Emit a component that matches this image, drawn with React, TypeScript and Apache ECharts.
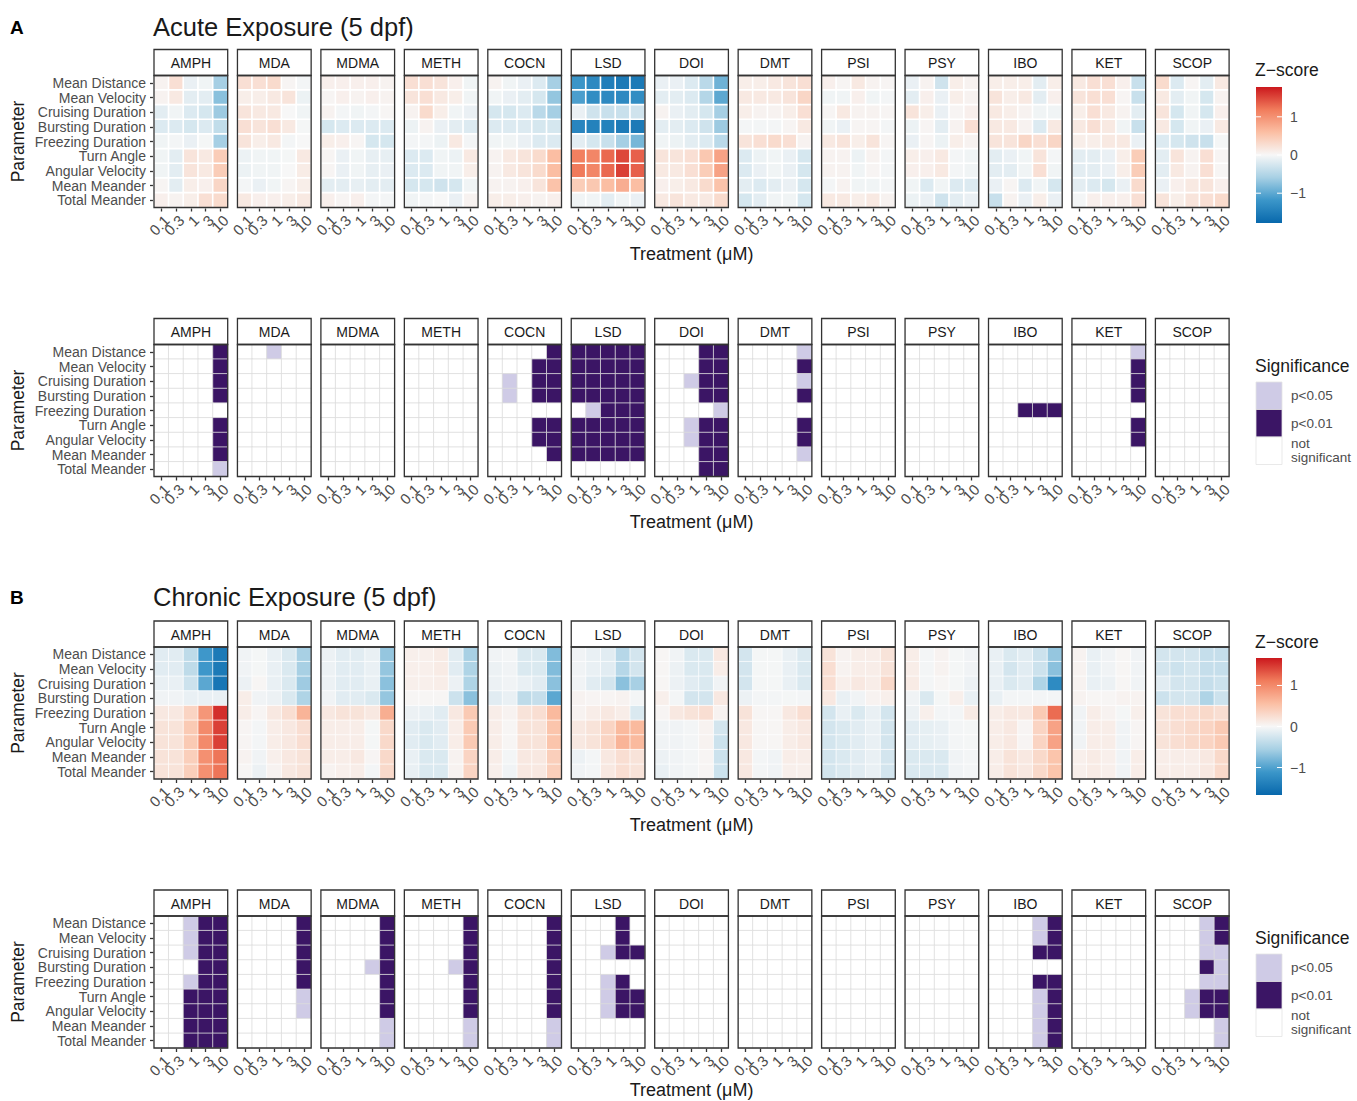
import React, { useEffect, useRef } from "react";
import * as echarts from "echarts";

// ---------------- categories ----------------
const DRUGS = ["AMPH", "MDA", "MDMA", "METH", "COCN", "LSD", "DOI", "DMT", "PSI", "PSY", "IBO", "KET", "SCOP"];
const CONCENTRATIONS = ["0.1", "0.3", "1", "3", "10"];
const PARAMETERS = [
  "Mean Distance", "Mean Velocity", "Cruising Duration", "Bursting Duration", "Freezing Duration",
  "Turn Angle", "Angular Velocity", "Mean Meander", "Total Meander",
];
const ZSCORE_TICKS = [1, 0, -1];
const SIG_LABELS = ["p<0.05", "p<0.01", "not\nsignificant"];
const SIG_LEGEND_LEVELS = [1, 2, 0];

// ---------------- acute z-scores (rows = parameters, cols = concentrations) ----------------
const acuteZ_AMPH = [[0.05, 0.25, -0.1, -0.05, -0.6], [0.05, 0.15, -0.15, -0.15, -0.75], [-0.15, -0.05, -0.2, -0.25, -0.65], [-0.2, -0.2, -0.25, -0.2, -0.4], [-0.05, -0.03, -0.1, -0.02, -0.6], [-0.05, -0.15, 0.2, 0.15, 0.45], [-0.05, -0.15, 0.2, 0.15, 0.45], [0.03, -0.15, 0.1, 0.08, 0.35], [0.08, 0.05, 0.1, 0.25, 0.3]];
const acuteZ_MDA = [[0.25, 0.25, 0.3, 0.03, -0.03], [0.1, 0.1, 0.15, 0.2, -0.08], [0.2, 0.15, 0.15, 0.0, -0.05], [0.25, 0.2, 0.25, 0.15, -0.02], [0.2, 0.1, 0.15, -0.03, 0.0], [-0.08, -0.05, -0.05, -0.02, 0.15], [-0.08, -0.05, -0.05, 0.0, 0.12], [-0.03, -0.1, -0.05, 0.03, 0.1], [0.15, 0.08, 0.08, 0.1, 0.15]];
const acuteZ_MDMA = [[0.08, 0.08, 0.08, 0.08, 0.05], [0.03, 0.08, 0.05, 0.08, 0.05], [0.05, -0.03, -0.05, -0.03, 0.02], [-0.25, -0.2, -0.2, -0.2, -0.2], [0.1, 0.08, 0.03, -0.25, -0.25], [0.03, -0.1, -0.05, -0.12, -0.12], [0.03, -0.1, -0.05, -0.12, -0.1], [-0.15, -0.15, -0.12, -0.15, -0.15], [0.08, 0.03, 0.08, -0.03, -0.03]];
const acuteZ_METH = [[0.25, 0.25, 0.2, 0.08, -0.05], [0.2, 0.25, 0.15, 0.1, -0.05], [0.05, 0.3, 0.1, -0.05, -0.1], [-0.08, 0.05, -0.1, -0.15, -0.2], [-0.03, -0.03, -0.08, 0.15, -0.03], [-0.2, -0.2, -0.05, -0.08, 0.15], [-0.2, -0.2, -0.05, -0.05, 0.1], [-0.25, -0.25, -0.3, -0.25, -0.05], [-0.05, -0.03, 0.0, -0.1, 0.05]];
const acuteZ_COCN = [[0.05, -0.05, -0.1, -0.2, -0.6], [-0.05, -0.1, -0.15, -0.25, -0.7], [-0.25, -0.25, -0.2, -0.45, -0.6], [-0.2, -0.2, -0.2, -0.25, -0.25], [-0.05, -0.05, -0.1, -0.2, -0.2], [0.05, 0.15, 0.2, 0.3, 0.6], [0.05, 0.15, 0.2, 0.3, 0.6], [0.05, 0.05, 0.08, 0.2, 0.55], [0.1, 0.1, 0.08, 0.05, 0.08]];
const acuteZ_LSD = [[-1.2, -1.35, -1.5, -1.55, -1.55], [-1.1, -1.3, -1.35, -1.35, -1.3], [-0.1, -0.3, -0.35, -0.35, -0.3], [-1.4, -1.45, -1.45, -1.55, -1.55], [-0.15, -0.25, -0.35, -0.6, -0.85], [1.15, 1.1, 1.3, 1.5, 1.35], [1.2, 1.1, 1.3, 1.55, 1.35], [0.45, 0.5, 0.6, 0.75, 0.6], [-0.05, -0.05, -0.15, -0.05, -0.1]];
const acuteZ_DOI = [[-0.1, -0.1, -0.2, -0.45, -0.9], [-0.15, -0.15, -0.2, -0.5, -1.0], [0.05, -0.1, -0.15, -0.25, -0.6], [-0.15, -0.15, -0.2, -0.3, -0.65], [-0.05, -0.08, -0.15, -0.2, -0.45], [0.2, 0.2, 0.25, 0.5, 0.85], [0.15, 0.15, 0.25, 0.45, 0.85], [0.08, 0.1, 0.15, 0.3, 0.55], [0.15, 0.2, 0.15, 0.15, 0.3]];
const acuteZ_DMT = [[0.1, 0.1, 0.15, 0.2, 0.25], [0.15, 0.15, 0.15, 0.2, 0.35], [0.1, 0.05, 0.05, 0.1, 0.25], [-0.03, -0.03, -0.03, 0.03, 0.15], [0.2, 0.25, 0.3, 0.25, 0.05], [-0.2, -0.08, -0.05, -0.1, -0.25], [-0.2, -0.1, -0.05, -0.1, -0.25], [-0.15, -0.2, -0.15, -0.1, -0.25], [-0.25, -0.15, -0.05, -0.05, -0.25]];
const acuteZ_PSI = [[0.08, 0.03, 0.15, 0.05, 0.03], [-0.05, -0.05, 0.08, -0.05, -0.03], [0.03, 0.15, 0.05, 0.05, 0.03], [-0.05, -0.1, 0.03, 0.03, -0.03], [0.15, 0.2, 0.1, 0.2, 0.03], [0.05, 0.05, -0.08, 0.05, -0.03], [0.05, 0.05, -0.05, 0.03, -0.03], [-0.03, 0.05, -0.05, -0.05, -0.03], [0.15, 0.15, 0.1, 0.15, 0.05]];
const acuteZ_PSY = [[-0.1, 0.05, -0.3, 0.1, 0.05], [-0.15, 0.08, -0.1, 0.1, 0.05], [0.2, 0.1, -0.1, 0.03, 0.08], [-0.08, 0.03, -0.15, 0.05, 0.25], [-0.1, 0.03, -0.08, 0.1, 0.05], [0.1, 0.08, 0.15, -0.03, -0.05], [0.08, 0.08, 0.15, -0.03, -0.05], [-0.05, -0.2, -0.05, -0.2, -0.2], [-0.08, -0.1, -0.3, -0.15, -0.1]];
const acuteZ_IBO = [[0.1, 0.1, 0.1, -0.15, 0.1], [0.2, 0.1, 0.15, -0.15, 0.08], [0.15, 0.1, 0.05, -0.05, -0.05], [0.15, 0.15, 0.05, -0.2, 0.15], [0.2, 0.2, 0.35, 0.25, 0.35], [-0.15, -0.1, -0.05, 0.2, -0.03], [-0.15, -0.15, -0.05, 0.25, -0.05], [-0.1, 0.03, -0.2, -0.05, -0.25], [-0.35, 0.05, -0.1, 0.1, -0.1]];
const acuteZ_KET = [[0.15, 0.25, 0.25, 0.08, -0.35], [0.2, 0.25, 0.25, 0.03, -0.35], [0.1, 0.25, 0.15, 0.05, -0.15], [0.15, 0.25, 0.15, -0.05, -0.35], [0.1, 0.1, 0.15, 0.15, -0.1], [-0.15, -0.15, -0.1, 0.1, 0.45], [-0.15, -0.15, -0.1, 0.1, 0.45], [-0.15, -0.2, -0.25, -0.1, 0.3], [-0.03, 0.08, 0.08, 0.08, 0.25]];
const acuteZ_SCOP = [[0.3, -0.2, 0.03, -0.15, 0.15], [0.15, -0.15, -0.05, -0.25, 0.05], [0.2, -0.25, -0.05, -0.25, 0.08], [0.15, -0.25, -0.05, -0.1, 0.15], [-0.2, -0.25, -0.3, -0.35, -0.02], [-0.15, 0.2, 0.05, 0.25, 0.03], [-0.15, 0.15, 0.05, 0.25, 0.02], [-0.1, 0.08, 0.15, 0.2, 0.08], [0.2, 0.1, 0.2, 0.25, 0.3]];

// ---------------- acute significance (0 = not significant, 1 = p<0.05, 2 = p<0.01) ----------------
const acuteSig_AMPH = [[0, 0, 0, 0, 2], [0, 0, 0, 0, 2], [0, 0, 0, 0, 2], [0, 0, 0, 0, 2], [0, 0, 0, 0, 0], [0, 0, 0, 0, 2], [0, 0, 0, 0, 2], [0, 0, 0, 0, 2], [0, 0, 0, 0, 1]];
const acuteSig_MDA = [[0, 0, 1, 0, 0], [0, 0, 0, 0, 0], [0, 0, 0, 0, 0], [0, 0, 0, 0, 0], [0, 0, 0, 0, 0], [0, 0, 0, 0, 0], [0, 0, 0, 0, 0], [0, 0, 0, 0, 0], [0, 0, 0, 0, 0]];
const acuteSig_MDMA = [[0, 0, 0, 0, 0], [0, 0, 0, 0, 0], [0, 0, 0, 0, 0], [0, 0, 0, 0, 0], [0, 0, 0, 0, 0], [0, 0, 0, 0, 0], [0, 0, 0, 0, 0], [0, 0, 0, 0, 0], [0, 0, 0, 0, 0]];
const acuteSig_METH = [[0, 0, 0, 0, 0], [0, 0, 0, 0, 0], [0, 0, 0, 0, 0], [0, 0, 0, 0, 0], [0, 0, 0, 0, 0], [0, 0, 0, 0, 0], [0, 0, 0, 0, 0], [0, 0, 0, 0, 0], [0, 0, 0, 0, 0]];
const acuteSig_COCN = [[0, 0, 0, 0, 2], [0, 0, 0, 2, 2], [0, 1, 0, 2, 2], [0, 1, 0, 2, 2], [0, 0, 0, 0, 0], [0, 0, 0, 2, 2], [0, 0, 0, 2, 2], [0, 0, 0, 0, 2], [0, 0, 0, 0, 0]];
const acuteSig_LSD = [[2, 2, 2, 2, 2], [2, 2, 2, 2, 2], [2, 2, 2, 2, 2], [2, 2, 2, 2, 2], [0, 1, 2, 2, 2], [2, 2, 2, 2, 2], [2, 2, 2, 2, 2], [2, 2, 2, 2, 2], [0, 0, 0, 0, 0]];
const acuteSig_DOI = [[0, 0, 0, 2, 2], [0, 0, 0, 2, 2], [0, 0, 1, 2, 2], [0, 0, 0, 2, 2], [0, 0, 0, 0, 1], [0, 0, 1, 2, 2], [0, 0, 1, 2, 2], [0, 0, 0, 2, 2], [0, 0, 0, 2, 2]];
const acuteSig_DMT = [[0, 0, 0, 0, 1], [0, 0, 0, 0, 2], [0, 0, 0, 0, 1], [0, 0, 0, 0, 2], [0, 0, 0, 0, 0], [0, 0, 0, 0, 2], [0, 0, 0, 0, 2], [0, 0, 0, 0, 1], [0, 0, 0, 0, 0]];
const acuteSig_PSI = [[0, 0, 0, 0, 0], [0, 0, 0, 0, 0], [0, 0, 0, 0, 0], [0, 0, 0, 0, 0], [0, 0, 0, 0, 0], [0, 0, 0, 0, 0], [0, 0, 0, 0, 0], [0, 0, 0, 0, 0], [0, 0, 0, 0, 0]];
const acuteSig_PSY = [[0, 0, 0, 0, 0], [0, 0, 0, 0, 0], [0, 0, 0, 0, 0], [0, 0, 0, 0, 0], [0, 0, 0, 0, 0], [0, 0, 0, 0, 0], [0, 0, 0, 0, 0], [0, 0, 0, 0, 0], [0, 0, 0, 0, 0]];
const acuteSig_IBO = [[0, 0, 0, 0, 0], [0, 0, 0, 0, 0], [0, 0, 0, 0, 0], [0, 0, 0, 0, 0], [0, 0, 2, 2, 2], [0, 0, 0, 0, 0], [0, 0, 0, 0, 0], [0, 0, 0, 0, 0], [0, 0, 0, 0, 0]];
const acuteSig_KET = [[0, 0, 0, 0, 1], [0, 0, 0, 0, 2], [0, 0, 0, 0, 2], [0, 0, 0, 0, 2], [0, 0, 0, 0, 0], [0, 0, 0, 0, 2], [0, 0, 0, 0, 2], [0, 0, 0, 0, 0], [0, 0, 0, 0, 0]];
const acuteSig_SCOP = [[0, 0, 0, 0, 0], [0, 0, 0, 0, 0], [0, 0, 0, 0, 0], [0, 0, 0, 0, 0], [0, 0, 0, 0, 0], [0, 0, 0, 0, 0], [0, 0, 0, 0, 0], [0, 0, 0, 0, 0], [0, 0, 0, 0, 0]];

// ---------------- chronic z-scores ----------------
const chronicZ_AMPH = [[-0.15, -0.15, -0.4, -1.1, -1.45], [-0.15, -0.15, -0.4, -1.1, -1.45], [-0.1, -0.1, -0.3, -0.95, -1.5], [-0.05, -0.05, -0.1, -0.1, -0.1], [0.15, 0.15, 0.35, 0.9, 1.55], [0.2, 0.2, 0.45, 1.0, 1.45], [0.2, 0.2, 0.45, 1.0, 1.45], [0.2, 0.2, 0.4, 0.95, 1.15], [0.2, 0.2, 0.4, 0.95, 1.15]];
const chronicZ_MDA = [[-0.05, -0.02, -0.1, -0.2, -0.55], [-0.05, -0.02, -0.1, -0.2, -0.55], [-0.08, 0.02, -0.1, -0.2, -0.6], [0.1, -0.05, -0.08, -0.2, -0.5], [0.1, 0.03, 0.15, 0.25, 0.65], [0.03, -0.03, 0.1, 0.15, 0.25], [0.03, -0.03, 0.1, 0.15, 0.25], [0.05, -0.05, 0.08, 0.15, 0.2], [0.02, -0.08, 0.05, 0.15, 0.2]];
const chronicZ_MDMA = [[-0.08, -0.15, -0.15, -0.1, -0.65], [-0.08, -0.15, -0.15, -0.1, -0.65], [-0.08, -0.15, -0.15, -0.1, -0.7], [-0.05, -0.15, -0.15, -0.2, -0.65], [0.15, 0.2, 0.2, 0.15, 0.7], [0.1, 0.1, 0.1, -0.02, 0.3], [0.1, 0.1, 0.1, -0.02, 0.3], [0.1, 0.1, 0.15, 0.03, 0.3], [0.05, 0.08, 0.1, -0.03, 0.3]];
const chronicZ_METH = [[0.08, 0.08, 0.12, -0.15, -0.55], [0.08, 0.08, 0.12, -0.15, -0.5], [0.08, 0.08, 0.1, -0.08, -0.5], [0.02, 0.02, 0.02, -0.3, -0.7], [-0.08, -0.1, -0.15, 0.15, 0.45], [-0.15, -0.2, -0.15, 0.1, 0.45], [-0.15, -0.2, -0.15, 0.1, 0.45], [-0.1, -0.2, -0.2, 0.05, 0.35], [-0.1, -0.2, -0.2, 0.05, 0.35]];
const chronicZ_COCN = [[-0.05, -0.03, -0.2, -0.2, -0.75], [-0.08, -0.05, -0.2, -0.2, -0.75], [-0.08, -0.05, -0.1, -0.15, -0.7], [-0.15, -0.1, -0.4, -0.35, -0.95], [0.1, 0.05, 0.2, 0.25, 0.6], [0.1, 0.02, 0.2, 0.2, 0.5], [0.1, 0.02, 0.2, 0.2, 0.5], [0.1, -0.03, 0.15, 0.15, 0.4], [0.08, -0.05, 0.15, 0.15, 0.4]];
const chronicZ_LSD = [[-0.05, -0.1, -0.15, -0.45, -0.25], [-0.05, -0.1, -0.15, -0.45, -0.25], [-0.05, -0.15, -0.25, -0.7, -0.55], [0.05, 0.03, 0.03, 0.05, -0.03], [0.05, 0.1, 0.15, 0.1, -0.2], [0.15, 0.2, 0.35, 0.6, 0.6], [0.15, 0.2, 0.35, 0.65, 0.6], [-0.08, -0.03, 0.15, 0.25, 0.2], [-0.05, -0.03, 0.15, 0.25, 0.2]];
const chronicZ_DOI = [[0.02, -0.05, -0.2, -0.2, 0.15], [0.02, -0.08, -0.2, -0.2, 0.1], [0.02, -0.08, -0.15, -0.2, -0.05], [0.08, -0.03, -0.25, -0.25, 0.15], [0.03, 0.15, 0.2, 0.25, 0.05], [-0.05, -0.05, -0.03, 0.05, -0.25], [-0.05, -0.05, -0.03, 0.05, -0.3], [-0.08, -0.05, -0.03, 0.03, -0.3], [-0.1, -0.05, -0.03, 0.03, -0.3]];
const chronicZ_DMT = [[-0.25, -0.02, -0.02, -0.1, -0.2], [-0.25, -0.02, -0.02, -0.1, -0.2], [-0.25, -0.02, -0.02, -0.1, -0.2], [-0.08, -0.03, -0.03, -0.02, -0.03], [0.2, 0.02, 0.02, 0.15, 0.25], [0.15, 0.02, 0.02, 0.1, 0.15], [0.15, 0.02, 0.02, 0.1, 0.15], [0.15, -0.03, -0.05, 0.1, 0.1], [0.15, -0.03, -0.05, 0.08, 0.08]];
const chronicZ_PSI = [[0.2, 0.05, 0.1, 0.1, 0.2], [0.25, 0.05, 0.1, 0.1, 0.2], [0.25, 0.08, 0.15, 0.1, 0.3], [0.15, -0.1, -0.05, 0.05, 0.08], [-0.25, -0.1, -0.2, -0.1, -0.25], [-0.25, -0.2, -0.15, -0.1, -0.25], [-0.25, -0.2, -0.15, -0.1, -0.25], [-0.25, -0.2, -0.15, -0.1, -0.25], [-0.25, -0.2, -0.15, -0.1, -0.25]];
const chronicZ_PSY = [[0.1, -0.03, 0.05, -0.02, -0.05], [0.1, -0.03, 0.05, -0.02, -0.05], [0.12, -0.03, 0.02, -0.02, -0.08], [-0.05, -0.2, -0.02, 0.08, -0.1], [-0.08, 0.08, -0.03, -0.03, 0.12], [-0.15, -0.12, -0.1, -0.03, -0.02], [-0.15, -0.12, -0.1, -0.03, -0.02], [-0.2, -0.2, -0.2, -0.05, -0.03], [-0.2, -0.2, -0.2, -0.05, -0.03]];
const chronicZ_IBO = [[-0.1, -0.2, -0.15, -0.3, -0.65], [-0.1, -0.25, -0.15, -0.3, -0.7], [-0.1, -0.2, -0.15, -0.5, -1.25], [-0.1, -0.03, -0.03, -0.03, -0.03], [0.1, 0.15, 0.15, 0.45, 1.2], [0.1, 0.15, 0.03, 0.35, 0.8], [0.1, 0.15, 0.03, 0.35, 0.8], [0.1, 0.2, 0.15, 0.3, 0.5], [0.1, 0.2, 0.15, 0.3, 0.5]];
const chronicZ_KET = [[0.05, -0.1, -0.05, 0.02, -0.05], [0.05, -0.1, -0.05, 0.02, -0.05], [0.05, -0.1, -0.08, 0.02, -0.05], [0.05, 0.02, 0.02, 0.05, 0.05], [-0.05, 0.1, 0.05, -0.02, 0.08], [-0.05, 0.1, 0.1, -0.05, 0.03], [-0.05, 0.1, 0.1, -0.05, 0.03], [0.08, 0.12, 0.08, -0.05, 0.1], [0.08, 0.12, 0.08, -0.05, 0.1]];
const chronicZ_SCOP = [[-0.25, -0.25, -0.25, -0.35, -0.35], [-0.25, -0.3, -0.25, -0.35, -0.35], [-0.15, -0.25, -0.25, -0.35, -0.3], [-0.3, -0.25, -0.25, -0.5, -0.3], [0.2, 0.25, 0.25, 0.3, 0.25], [0.2, 0.25, 0.3, 0.35, 0.45], [0.2, 0.25, 0.3, 0.35, 0.45], [0.1, 0.1, 0.1, 0.15, 0.3], [0.1, 0.1, 0.1, 0.15, 0.3]];

// ---------------- chronic significance ----------------
const chronicSig_AMPH = [[0, 0, 1, 2, 2], [0, 0, 1, 2, 2], [0, 0, 1, 2, 2], [0, 0, 0, 2, 2], [0, 0, 1, 2, 2], [0, 0, 2, 2, 2], [0, 0, 2, 2, 2], [0, 0, 2, 2, 2], [0, 0, 2, 2, 2]];
const chronicSig_MDA = [[0, 0, 0, 0, 2], [0, 0, 0, 0, 2], [0, 0, 0, 0, 2], [0, 0, 0, 0, 2], [0, 0, 0, 0, 2], [0, 0, 0, 0, 1], [0, 0, 0, 0, 1], [0, 0, 0, 0, 0], [0, 0, 0, 0, 0]];
const chronicSig_MDMA = [[0, 0, 0, 0, 2], [0, 0, 0, 0, 2], [0, 0, 0, 0, 2], [0, 0, 0, 1, 2], [0, 0, 0, 0, 2], [0, 0, 0, 0, 2], [0, 0, 0, 0, 2], [0, 0, 0, 0, 1], [0, 0, 0, 0, 1]];
const chronicSig_METH = [[0, 0, 0, 0, 2], [0, 0, 0, 0, 2], [0, 0, 0, 0, 2], [0, 0, 0, 1, 2], [0, 0, 0, 0, 2], [0, 0, 0, 0, 2], [0, 0, 0, 0, 2], [0, 0, 0, 0, 1], [0, 0, 0, 0, 1]];
const chronicSig_COCN = [[0, 0, 0, 0, 2], [0, 0, 0, 0, 2], [0, 0, 0, 0, 2], [0, 0, 0, 0, 2], [0, 0, 0, 0, 2], [0, 0, 0, 0, 2], [0, 0, 0, 0, 2], [0, 0, 0, 0, 1], [0, 0, 0, 0, 1]];
const chronicSig_LSD = [[0, 0, 0, 2, 0], [0, 0, 0, 2, 0], [0, 0, 1, 2, 2], [0, 0, 0, 0, 0], [0, 0, 1, 2, 0], [0, 0, 1, 2, 2], [0, 0, 1, 2, 2], [0, 0, 0, 0, 0], [0, 0, 0, 0, 0]];
const chronicSig_DOI = [[0, 0, 0, 0, 0], [0, 0, 0, 0, 0], [0, 0, 0, 0, 0], [0, 0, 0, 0, 0], [0, 0, 0, 0, 0], [0, 0, 0, 0, 0], [0, 0, 0, 0, 0], [0, 0, 0, 0, 0], [0, 0, 0, 0, 0]];
const chronicSig_DMT = [[0, 0, 0, 0, 0], [0, 0, 0, 0, 0], [0, 0, 0, 0, 0], [0, 0, 0, 0, 0], [0, 0, 0, 0, 0], [0, 0, 0, 0, 0], [0, 0, 0, 0, 0], [0, 0, 0, 0, 0], [0, 0, 0, 0, 0]];
const chronicSig_PSI = [[0, 0, 0, 0, 0], [0, 0, 0, 0, 0], [0, 0, 0, 0, 0], [0, 0, 0, 0, 0], [0, 0, 0, 0, 0], [0, 0, 0, 0, 0], [0, 0, 0, 0, 0], [0, 0, 0, 0, 0], [0, 0, 0, 0, 0]];
const chronicSig_PSY = [[0, 0, 0, 0, 0], [0, 0, 0, 0, 0], [0, 0, 0, 0, 0], [0, 0, 0, 0, 0], [0, 0, 0, 0, 0], [0, 0, 0, 0, 0], [0, 0, 0, 0, 0], [0, 0, 0, 0, 0], [0, 0, 0, 0, 0]];
const chronicSig_IBO = [[0, 0, 0, 1, 2], [0, 0, 0, 1, 2], [0, 0, 0, 2, 2], [0, 0, 0, 0, 0], [0, 0, 0, 2, 2], [0, 0, 0, 1, 2], [0, 0, 0, 1, 2], [0, 0, 0, 1, 2], [0, 0, 0, 1, 2]];
const chronicSig_KET = [[0, 0, 0, 0, 0], [0, 0, 0, 0, 0], [0, 0, 0, 0, 0], [0, 0, 0, 0, 0], [0, 0, 0, 0, 0], [0, 0, 0, 0, 0], [0, 0, 0, 0, 0], [0, 0, 0, 0, 0], [0, 0, 0, 0, 0]];
const chronicSig_SCOP = [[0, 0, 0, 1, 2], [0, 0, 0, 1, 2], [0, 0, 0, 1, 1], [0, 0, 0, 2, 1], [0, 0, 0, 1, 1], [0, 0, 1, 2, 2], [0, 0, 1, 2, 2], [0, 0, 0, 0, 1], [0, 0, 0, 0, 1]];

const ACUTE_Z = [acuteZ_AMPH, acuteZ_MDA, acuteZ_MDMA, acuteZ_METH, acuteZ_COCN, acuteZ_LSD, acuteZ_DOI, acuteZ_DMT, acuteZ_PSI, acuteZ_PSY, acuteZ_IBO, acuteZ_KET, acuteZ_SCOP];
const ACUTE_SIG = [acuteSig_AMPH, acuteSig_MDA, acuteSig_MDMA, acuteSig_METH, acuteSig_COCN, acuteSig_LSD, acuteSig_DOI, acuteSig_DMT, acuteSig_PSI, acuteSig_PSY, acuteSig_IBO, acuteSig_KET, acuteSig_SCOP];
const CHRONIC_Z = [chronicZ_AMPH, chronicZ_MDA, chronicZ_MDMA, chronicZ_METH, chronicZ_COCN, chronicZ_LSD, chronicZ_DOI, chronicZ_DMT, chronicZ_PSI, chronicZ_PSY, chronicZ_IBO, chronicZ_KET, chronicZ_SCOP];
const CHRONIC_SIG = [chronicSig_AMPH, chronicSig_MDA, chronicSig_MDMA, chronicSig_METH, chronicSig_COCN, chronicSig_LSD, chronicSig_DOI, chronicSig_DMT, chronicSig_PSI, chronicSig_PSY, chronicSig_IBO, chronicSig_KET, chronicSig_SCOP];

// ---------------- styles / layout ----------------
const Z_COLORS = ["#0868ac", "#3b96c9", "#a7d0e4", "#f7f7f7", "#fbbfa4", "#f17c5c", "#cb181d"];
const SIG_COLORS = ["#ffffff", "#cfcbe6", "#3b1565"];
const FONT = "'Liberation Sans', Arial, sans-serif";
const DARK = "#1a1a1a";
const GREY = "#4d4d4d";
const FRAME = "#333333";

const FX0 = 154;
const FW = 73.7;
const FP = 83.45;
const STRIP_H = 26;
const PLOT_H = 132;
const LEG_X = 1256;
const LEG_W = 26;

type Panel = {
  stripTop: number;
  kind: "z" | "sig";
  data: number[][][];
  zMax?: number;
  tileBorder: number;
  legendTitleY: number;
  legendTop: number;
  legendH: number;
  xTitleGap: number;
};

const PANELS: Panel[] = [
  { stripTop: 49.5, kind: "z", data: ACUTE_Z, zMax: 1.78, tileBorder: 1.6, legendTitleY: 70, legendTop: 87, legendH: 136, xTitleGap: 46 },
  { stripTop: 318.5, kind: "sig", data: ACUTE_SIG, tileBorder: 0.8, legendTitleY: 366, legendTop: 382, legendH: 27.5, xTitleGap: 45 },
  { stripTop: 621, kind: "z", data: CHRONIC_Z, zMax: 1.67, tileBorder: 0.7, legendTitleY: 642, legendTop: 658, legendH: 137, xTitleGap: 46 },
  { stripTop: 890, kind: "sig", data: CHRONIC_SIG, tileBorder: 0.8, legendTitleY: 938, legendTop: 954, legendH: 27.5, xTitleGap: 42 },
];

const HEADERS = [
  { letter: "A", title: "Acute Exposure (5 dpf)", y: 27 },
  { letter: "B", title: "Chronic Exposure (5 dpf)", y: 597 },
];

function buildOption() {
  const grid: any[] = [];
  const xAxis: any[] = [];
  const yAxis: any[] = [];
  const series: any[] = [];
  const graphic: any[] = [];
  const seriesByPanel: number[][] = PANELS.map(() => []);

  HEADERS.forEach((h) => {
    graphic.push({
      type: "text", x: 10, y: h.y, z: 100,
      style: { text: h.letter, font: `bold 19px ${FONT}`, fill: "#000", textAlign: "left", textVerticalAlign: "middle" },
    });
    graphic.push({
      type: "text", x: 153, y: h.y, z: 100,
      style: { text: h.title, font: `25.5px ${FONT}`, fill: DARK, textAlign: "left", textVerticalAlign: "middle" },
    });
  });

  PANELS.forEach((p, pi) => {
    const plotTop = p.stripTop + STRIP_H;
    DRUGS.forEach((drug, d) => {
      const gi = grid.length;
      const left = FX0 + d * FP;
      grid.push({ left, top: plotTop, width: FW, height: PLOT_H, show: false });
      xAxis.push({
        gridIndex: gi, type: "category", data: CONCENTRATIONS,
        axisLine: { show: false },
        axisTick: { show: true, alignWithLabel: true, length: 4, lineStyle: { color: FRAME, width: 1.3 } },
        axisLabel: {
          rotate: 45, interval: 0, margin: 5, hideOverlap: false,
          align: "right", verticalAlign: "top",
          formatter: (v: string) => `{t|${v}}`,
          rich: { t: { fontSize: 15, fontFamily: FONT, color: GREY } },
        },
        splitLine: { show: false },
      });
      yAxis.push({
        gridIndex: gi, type: "category", data: PARAMETERS, inverse: true,
        axisLine: { show: false },
        axisTick: { show: d === 0, alignWithLabel: true, length: 4, lineStyle: { color: FRAME, width: 1.3 } },
        axisLabel: { show: d === 0, color: GREY, fontSize: 14, fontFamily: FONT, margin: 8, interval: 0 },
        splitLine: { show: false },
      });
      const matrix = p.data[d];
      const cells: number[][] = [];
      matrix.forEach((row, r) => row.forEach((v, c) => cells.push([c, r, v])));
      seriesByPanel[pi].push(series.length);
      series.push({
        type: "heatmap", name: `${drug}-${pi}`, xAxisIndex: gi, yAxisIndex: gi, data: cells,
        itemStyle: { borderColor: p.kind === "z" ? "#ffffff" : "#dcdcdc", borderWidth: p.tileBorder },
        emphasis: { disabled: true },
        progressive: 0,
      });
      // strip header
      graphic.push({
        type: "rect", z: 100,
        shape: { x: left, y: p.stripTop, width: FW, height: STRIP_H },
        style: { fill: "#ffffff", stroke: FRAME, lineWidth: 1.3 },
      });
      graphic.push({
        type: "text", z: 101, x: left + FW / 2, y: p.stripTop + STRIP_H / 2 + 0.5,
        style: { text: drug, font: `14px ${FONT}`, fill: DARK, textAlign: "center", textVerticalAlign: "middle" },
      });
      // panel frame
      graphic.push({
        type: "rect", z: 100,
        shape: { x: left, y: plotTop, width: FW, height: PLOT_H },
        style: { fill: "none", stroke: FRAME, lineWidth: 1.3 },
      });
    });

    // axis titles
    graphic.push({
      type: "text", z: 100, x: 18, y: plotTop + PLOT_H / 2, rotation: Math.PI / 2,
      style: { text: "Parameter", font: `17.5px ${FONT}`, fill: DARK, textAlign: "center", textVerticalAlign: "middle" },
    });
    graphic.push({
      type: "text", z: 100, x: FX0 + (12 * FP + FW) / 2, y: plotTop + PLOT_H + p.xTitleGap,
      style: { text: "Treatment (\u03bcM)", font: `18px ${FONT}`, fill: DARK, textAlign: "center", textVerticalAlign: "middle" },
    });

    // legends
    if (p.kind === "z") {
      const zMax = p.zMax as number;
      graphic.push({
        type: "text", z: 100, x: 1255, y: p.legendTitleY,
        style: { text: "Z\u2212score", font: `17.5px ${FONT}`, fill: DARK, textAlign: "left", textVerticalAlign: "middle" },
      });
      const stops = Z_COLORS.map((c, i) => ({ offset: 1 - i / (Z_COLORS.length - 1), color: c }));
      stops.reverse();
      graphic.push({
        type: "rect", z: 100,
        shape: { x: LEG_X, y: p.legendTop, width: LEG_W, height: p.legendH },
        style: { fill: new echarts.graphic.LinearGradient(0, 0, 0, 1, stops), stroke: "none" },
      });
      ZSCORE_TICKS.forEach((t) => {
        const ty = p.legendTop + ((zMax - t) / (2 * zMax)) * p.legendH;
        graphic.push({ type: "line", z: 101, shape: { x1: LEG_X, y1: ty, x2: LEG_X + 5, y2: ty }, style: { stroke: "#ffffff", lineWidth: 1 } });
        graphic.push({ type: "line", z: 101, shape: { x1: LEG_X + LEG_W - 5, y1: ty, x2: LEG_X + LEG_W, y2: ty }, style: { stroke: "#ffffff", lineWidth: 1 } });
        graphic.push({
          type: "text", z: 101, x: LEG_X + LEG_W + 8, y: ty,
          style: { text: t < 0 ? `\u2212${Math.abs(t)}` : `${t}`, font: `14px ${FONT}`, fill: GREY, textAlign: "left", textVerticalAlign: "middle" },
        });
      });
    } else {
      graphic.push({
        type: "text", z: 100, x: 1255, y: p.legendTitleY,
        style: { text: "Significance", font: `17.5px ${FONT}`, fill: DARK, textAlign: "left", textVerticalAlign: "middle" },
      });
      SIG_LEGEND_LEVELS.forEach((lvl, k) => {
        const ky = p.legendTop + k * p.legendH;
        graphic.push({
          type: "rect", z: 100,
          shape: { x: LEG_X, y: ky, width: LEG_W, height: p.legendH },
          style: { fill: SIG_COLORS[lvl], stroke: "#e3e3e3", lineWidth: 0.8 },
        });
        graphic.push({
          type: "text", z: 101, x: LEG_X + LEG_W + 9, y: ky + p.legendH / 2,
          style: { text: SIG_LABELS[k], font: `13.5px ${FONT}`, fill: GREY, textAlign: "left", textVerticalAlign: "middle", lineHeight: 14 },
        });
      });
    }
  });

  const visualMap = [
    { type: "continuous", show: false, min: -PANELS[0].zMax!, max: PANELS[0].zMax!, dimension: 2, seriesIndex: seriesByPanel[0], inRange: { color: Z_COLORS } },
    { type: "continuous", show: false, min: -PANELS[2].zMax!, max: PANELS[2].zMax!, dimension: 2, seriesIndex: seriesByPanel[2], inRange: { color: Z_COLORS } },
    {
      type: "piecewise", show: false, dimension: 2, seriesIndex: [...seriesByPanel[1], ...seriesByPanel[3]],
      pieces: [
        { value: 0, color: SIG_COLORS[0] },
        { value: 1, color: SIG_COLORS[1] },
        { value: 2, color: SIG_COLORS[2] },
      ],
    },
  ];

  return {
    animation: false,
    backgroundColor: "#ffffff",
    textStyle: { fontFamily: FONT },
    grid, xAxis, yAxis, series, visualMap, graphic,
  };
}

export default function App() {
  const ref = useRef<HTMLDivElement>(null);
  useEffect(() => {
    if (!ref.current) return;
    const chart = echarts.init(ref.current, null, { renderer: "svg" });
    chart.setOption(buildOption() as any);
    return () => chart.dispose();
  }, []);
  return (
    <div
      ref={ref}
      style={{ position: "fixed", left: 0, top: 0, width: 1357, height: 1101, background: "#ffffff" }}
    />
  );
}
